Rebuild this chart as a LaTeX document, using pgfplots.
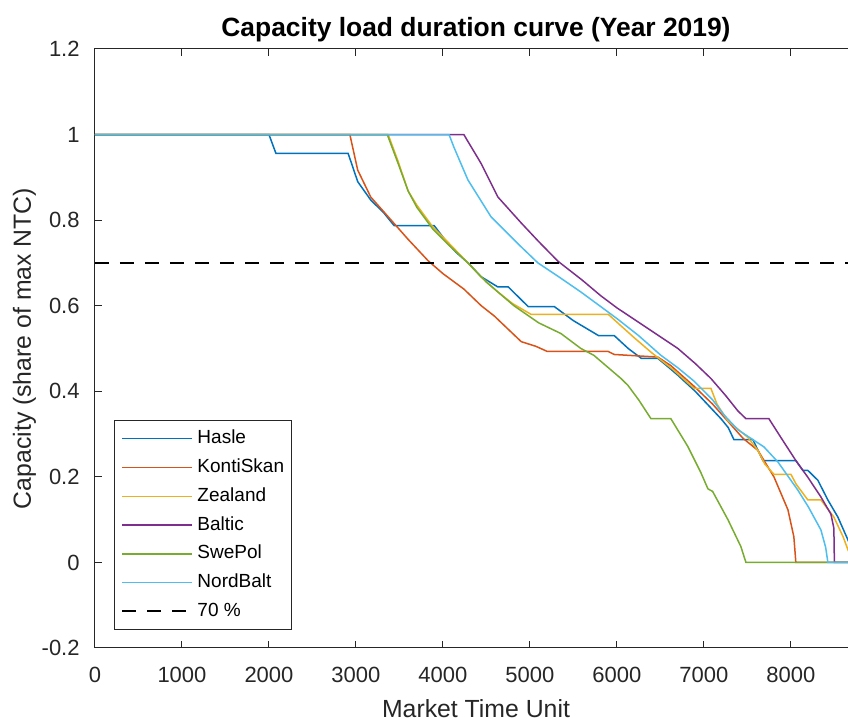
\documentclass[border=0pt]{standalone}
\usepackage{fontspec}
\setmainfont{Liberation Sans}
\usepackage{pgfplots}
\pgfplotsset{compat=1.18}
\definecolor{c1}{HTML}{0072BD}
\definecolor{c2}{HTML}{D95319}
\definecolor{c3}{HTML}{EDB120}
\definecolor{c4}{HTML}{7E2F8E}
\definecolor{c5}{HTML}{77AC30}
\definecolor{c6}{HTML}{4DBEEE}
\definecolor{axgray}{HTML}{262626}
\begin{document}
\begin{tikzpicture}
\begin{axis}[
  at={(0,0)}, anchor=south west,
  scale only axis, width=381pt, height=299.5pt,
  xmin=0, xmax=8760, ymin=-0.2, ymax=1.2,
  xtick={0,1000,2000,3000,4000,5000,6000,7000,8000},
  xticklabels={0,1000,2000,3000,4000,5000,6000,7000,8000},
  ytick={-0.2,0,0.2,0.4,0.6,0.8,1,1.2},
  yticklabels={-0.2,0,0.2,0.4,0.6,0.8,1,1.2},
  tick align=inside, tick pos=both, major tick length=3.5pt,
  axis line style={draw=axgray, line width=0.5pt},
  every tick/.style={axgray, line width=0.5pt},
  ticklabel style={font=\fontsize{11}{13}\selectfont, text=axgray},
  xticklabel style={anchor=base, yshift=-17.5pt, inner sep=0pt},
  yticklabel style={anchor=east, xshift=-7.5pt, inner sep=0pt},
  title={Capacity load duration curve (Year 2019)},
  title style={at={(axis description cs:0.5,1)}, anchor=base, yshift=0pt, font=\fontsize{13.2}{15}\selectfont\bfseries, text=black},
  xlabel={Market Time Unit},
  xlabel style={at={([yshift=-35pt]axis description cs:0.5,0)}, anchor=base, font=\fontsize{12.4}{14}\selectfont, text=axgray},
  ylabel={Capacity (share of max NTC)},
  ylabel style={at={([xshift=-32pt]axis description cs:0,0.5)}, anchor=base, font=\fontsize{12.4}{14}\selectfont, text=axgray},
  legend image code/.code={\draw[#1] (0pt,0pt) -- (35pt,0pt);},
  legend style={at={([xshift=9.5pt,yshift=9pt]axis description cs:0,0)}, anchor=south west,
    draw=axgray, line width=0.5pt, fill=white, font=\fontsize{9.5}{11}\selectfont, text=black,
    inner xsep=3.5pt, inner ysep=4.5pt, row sep=5.4pt, column sep=2pt,
    nodes={inner sep=0pt, text height=7pt, text depth=2pt},
    column 2/.style={nodes={text width=49pt, align=left}}},
  legend cell align=left,
]
% Hasle
\addplot[c1, line width=0.75pt] coordinates {
(0,1) (2000,1) (2080,0.956) (2910,0.956) (3020,0.89) (3170,0.847) (3320,0.817) (3440,0.787) (3900,0.787) (4050,0.747) (4150,0.725) (4290,0.70) (4437,0.668) (4630,0.644) (4750,0.644) (4870,0.62) (4980,0.598) (5280,0.598) (5500,0.565) (5790,0.53) (5970,0.53) (6130,0.50) (6280,0.477) (6470,0.477) (6600,0.455) (6700,0.4375) (6900,0.40) (7080,0.361) (7200,0.335) (7280,0.315) (7345,0.287) (7563,0.287) (7678,0.238) (8057,0.238) (8138,0.215) (8195,0.215) (8310,0.192) (8425,0.146) (8540,0.106) (8655,0.053) (8760,0.0)};
\addlegendentry{Hasle}
% KontiSkan
\addplot[c2, line width=0.75pt] coordinates {
(0,1) (2930,1) (3020,0.917) (3170,0.854) (3370,0.808) (3600,0.755) (3830,0.705) (4000,0.675) (4240,0.639) (4440,0.60) (4590,0.576) (4750,0.545) (4900,0.516) (5070,0.505) (5200,0.493) (5900,0.493) (5970,0.486) (6470,0.48) (6620,0.46) (6885,0.412) (7100,0.37) (7310,0.322) (7450,0.29) (7620,0.262) (7805,0.2) (7966,0.123) (8034,0.06) (8057,0) (8760,0)};
\addlegendentry{KontiSkan}
% Zealand
\addplot[c3, line width=0.75pt] coordinates {
(0,1) (3370,1) (3480,0.94) (3600,0.868) (3700,0.835) (3880,0.785) (4050,0.75) (4287,0.70) (4450,0.665) (4632,0.632) (4800,0.605) (5011,0.58) (5900,0.58) (6046,0.553) (6200,0.525) (6400,0.49) (6650,0.45) (6885,0.407) (7080,0.407) (7150,0.37) (7276,0.331) (7400,0.31) (7506,0.292) (7620,0.262) (7700,0.23) (7805,0.206) (8000,0.206) (8060,0.183) (8195,0.146) (8345,0.146) (8494,0.106) (8600,0.06) (8655,0.03) (8720,0) (8760,0)};
\addlegendentry{Zealand}
% Baltic
\addplot[c4, line width=0.75pt] coordinates {
(0,1) (4240,1) (4437,0.933) (4632,0.854) (4897,0.794) (5100,0.75) (5322,0.704) (5600,0.66) (5816,0.623) (6000,0.595) (6310,0.553) (6701,0.50) (6900,0.465) (7080,0.43) (7250,0.39) (7391,0.354) (7483,0.336) (7747,0.336) (7885,0.292) (8057,0.238) (8195,0.199) (8345,0.153) (8460,0.113) (8494,0.08) (8500,0) (8760,0)};
\addlegendentry{Baltic}
% SwePol
\addplot[c5, line width=0.75pt] coordinates {
(0,1) (3360,1) (3480,0.935) (3600,0.868) (3700,0.83) (3880,0.78) (4050,0.745) (4287,0.70) (4500,0.655) (4816,0.60) (5100,0.56) (5356,0.535) (5586,0.50) (5735,0.484) (6046,0.43) (6126,0.414) (6250,0.38) (6391,0.336) (6620,0.336) (6815,0.271) (6965,0.21) (7046,0.172) (7100,0.166) (7276,0.10) (7425,0.037) (7483,0) (8760,0)};
\addlegendentry{SwePol}
% NordBalt
\addplot[c6, line width=0.75pt] coordinates {
(0,1) (4070,1) (4127,0.97) (4287,0.894) (4552,0.808) (4897,0.738) (5092,0.70) (5350,0.665) (5586,0.632) (5800,0.60) (6000,0.57) (6250,0.53) (6506,0.484) (6700,0.455) (6885,0.424) (7100,0.38) (7230,0.345) (7391,0.31) (7690,0.27) (7850,0.235) (8080,0.169) (8200,0.13) (8345,0.076) (8400,0.035) (8425,0) (8760,0)};
\addlegendentry{NordBalt}
% 70 %
\addplot[black, line width=1pt, dash pattern=on 7pt off 5.5pt] coordinates {(0,0.7) (8760,0.7)};
\addlegendentry{70 \%}
\end{axis}
\pgfresetboundingbox
\useasboundingbox (-47.5pt,-38pt) rectangle (376.5pt,324pt);
\end{tikzpicture}
\end{document}
